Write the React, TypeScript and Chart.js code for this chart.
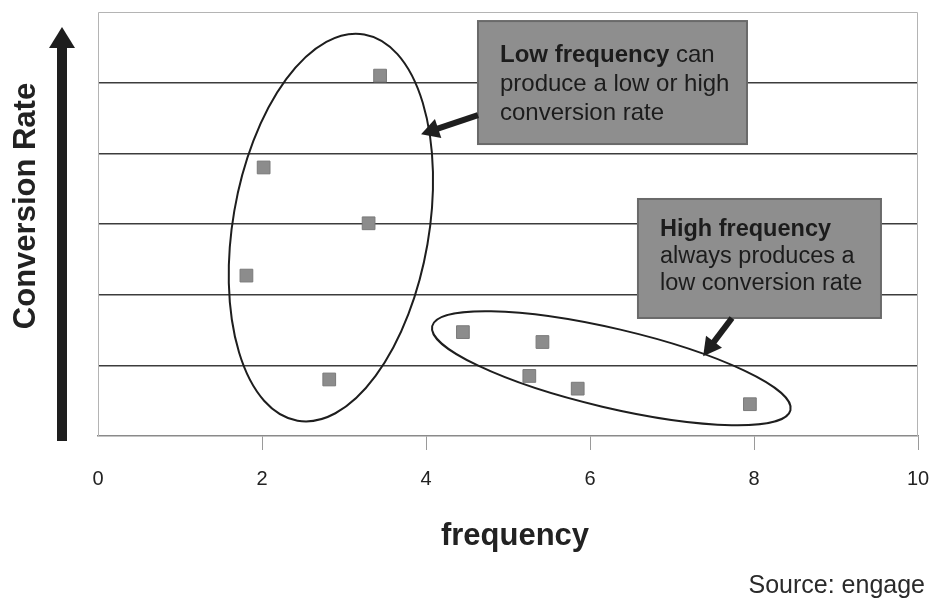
import React, { useEffect, useRef } from "react";
import { Chart, registerables } from "chart.js";

Chart.register(...registerables);

// ---- data ----
const frequency = [3.44, 2.02, 3.3, 1.81, 2.82, 4.45, 5.42, 5.26, 5.85, 7.95];
const conversionRate = [5.1, 3.8, 3.01, 2.27, 0.8, 1.47, 1.33, 0.85, 0.67, 0.45];
const xTickValues = [0, 2, 4, 6, 8, 10];
const yGridLevels = [0, 1, 2, 3, 4, 5, 6];

const xTitle = "frequency";
const yTitle = "Conversion Rate";
const sourceNote = "Source: engage";

const lowBoxLines = [
  [{ t: "Low frequency", b: true }, { t: " can", b: false }],
  [{ t: "produce a low or high", b: false }],
  [{ t: "conversion rate", b: false }],
];
const highBoxLines = [
  [{ t: "High frequency", b: true }],
  [{ t: "always produces a", b: false }],
  [{ t: "low conversion rate", b: false }],
];

// ---- annotation geometry (anchored in data coordinates) ----
const FONT = "'Liberation Sans', Arial, Helvetica, sans-serif";

const ellipses = [
  { cx: 2.84, cy: 2.95, rx: 98, ry: 196, rot: 9.8 },
  { cx: 6.26, cy: 0.96, rx: 184, ry: 39.6, rot: 13.2 },
];

const boxes = [
  {
    x: 4.634, y: 5.872, w: 269, h: 123, lines: lowBoxLines, size: 24,
    textDx: 22, firstBase: 41, lineGap: 29,
    arrow: { fromDx: 0, fromDy: 94, toX: 3.94, toY: 4.27 },
  },
  {
    x: 6.585, y: 3.354, w: 243, h: 119, lines: highBoxLines, size: 23.5,
    textDx: 22, firstBase: 37, lineGap: 27,
    arrow: { fromDx: 94, fromDy: 119, toX: 7.38, toY: 1.13 },
  },
];

function drawArrow(ctx: CanvasRenderingContext2D, x1: number, y1: number, x2: number, y2: number, lw: number, hl: number, hw: number) {
  const ang = Math.atan2(y2 - y1, x2 - x1);
  const bx = x2 - hl * Math.cos(ang);
  const by = y2 - hl * Math.sin(ang);
  ctx.save();
  ctx.strokeStyle = "#1e1e1e";
  ctx.fillStyle = "#1e1e1e";
  ctx.lineWidth = lw;
  ctx.lineCap = "butt";
  ctx.beginPath();
  ctx.moveTo(x1, y1);
  ctx.lineTo(bx + 2 * Math.cos(ang), by + 2 * Math.sin(ang));
  ctx.stroke();
  ctx.beginPath();
  ctx.moveTo(x2, y2);
  ctx.lineTo(bx + hw * Math.sin(ang), by - hw * Math.cos(ang));
  ctx.lineTo(bx - hw * Math.sin(ang), by + hw * Math.cos(ang));
  ctx.closePath();
  ctx.fill();
  ctx.restore();
}

const annotate = {
  id: "annotate",
  beforeDatasetsDraw(chart: any) {
    const { ctx, chartArea: a } = chart;
    ctx.save();
    ctx.strokeStyle = "#b4b4b4";
    ctx.lineWidth = 1;
    ctx.beginPath();
    ctx.moveTo(a.left + 0.5, a.bottom);
    ctx.lineTo(a.left + 0.5, a.top + 0.5);
    ctx.lineTo(a.right - 0.5, a.top + 0.5);
    ctx.lineTo(a.right - 0.5, a.bottom);
    ctx.stroke();
    ctx.restore();
  },
  afterDatasetsDraw(chart: any) {
    const { ctx } = chart;
    const xs = chart.scales.x;
    const ys = chart.scales.y;
    ctx.save();
    ctx.strokeStyle = "#1e1e1e";
    ctx.lineWidth = 2;
    for (const e of ellipses) {
      ctx.beginPath();
      ctx.ellipse(xs.getPixelForValue(e.cx), ys.getPixelForValue(e.cy), e.rx, e.ry, (e.rot * Math.PI) / 180, 0, Math.PI * 2);
      ctx.stroke();
    }
    ctx.restore();
  },
  afterDraw(chart: any) {
    const { ctx, chartArea: a } = chart;
    const xs = chart.scales.x;
    const ys = chart.scales.y;

    // callout boxes
    for (const b of boxes) {
      const left = xs.getPixelForValue(b.x);
      const top = ys.getPixelForValue(b.y);
      ctx.save();
      ctx.fillStyle = "#8e8e8e";
      ctx.strokeStyle = "#6a6a6a";
      ctx.lineWidth = 2;
      ctx.fillRect(left, top, b.w, b.h);
      ctx.strokeRect(left, top, b.w, b.h);
      ctx.fillStyle = "#1c1c1c";
      ctx.textBaseline = "alphabetic";
      ctx.textAlign = "left";
      b.lines.forEach((line, i) => {
        let tx = left + b.textDx;
        const ty = top + b.firstBase + i * b.lineGap;
        for (const seg of line) {
          ctx.font = `${seg.b ? "bold " : ""}${b.size}px ${FONT}`;
          ctx.fillText(seg.t, tx, ty);
          tx += ctx.measureText(seg.t).width;
        }
      });
      ctx.restore();
      drawArrow(
        ctx,
        left + b.arrow.fromDx,
        top + b.arrow.fromDy,
        xs.getPixelForValue(b.arrow.toX),
        ys.getPixelForValue(b.arrow.toY),
        6, 18, 10
      );
    }

    // y-axis arrow
    ctx.save();
    ctx.fillStyle = "#1e1e1e";
    ctx.fillRect(57, 46, 10, a.bottom + 5 - 46);
    ctx.beginPath();
    ctx.moveTo(62, 27);
    ctx.lineTo(75, 48);
    ctx.lineTo(49, 48);
    ctx.closePath();
    ctx.fill();
    ctx.restore();

    // titles
    ctx.save();
    ctx.fillStyle = "#222";
    ctx.font = `bold 31px ${FONT}`;
    ctx.textAlign = "center";
    ctx.textBaseline = "alphabetic";
    ctx.save();
    ctx.translate(35, 206);
    ctx.rotate(-Math.PI / 2);
    ctx.fillText(yTitle, 0, 0);
    ctx.restore();
    ctx.fillText(xTitle, 515, 545);
    ctx.font = `25px ${FONT}`;
    ctx.textAlign = "right";
    ctx.fillStyle = "#2a2a2a";
    ctx.fillText(sourceNote, 925, 593);
    ctx.restore();
  },
};

export default function App() {
  const ref = useRef<HTMLCanvasElement | null>(null);
  useEffect(() => {
    if (!ref.current) return;
    const chart = new Chart(ref.current, {
      type: "scatter",
      data: {
        datasets: [
          {
            data: frequency.map((x, i) => ({ x, y: conversionRate[i] })),
            pointStyle: "rect",
            pointRadius: 9,
            pointHoverRadius: 9,
            backgroundColor: "#8c8c8c",
            borderColor: "#7a7a7a",
            borderWidth: 1,
          },
        ],
      },
      options: {
        animation: false,
        responsive: true,
        maintainAspectRatio: false,
        layout: { padding: { left: 98, right: 11, top: 12, bottom: 0 } },
        plugins: { legend: { display: false }, tooltip: { enabled: false } },
        scales: {
          x: {
            type: "linear",
            min: 0,
            max: 10,
            afterBuildTicks: (s: any) => {
              s.ticks = xTickValues.map((v) => ({ value: v }));
            },
            ticks: { font: { family: FONT, size: 20 }, color: "#222", padding: 17, maxRotation: 0 },
            grid: {
              drawOnChartArea: false,
              drawTicks: true,
              tickLength: 14,
              lineWidth: 1,
              color: (c: any) => (c.tick && c.tick.value === 0 ? "rgba(0,0,0,0)" : "#9a9a9a"),
            },
            border: { color: "#8a8a8a", width: 1.5 },
            afterFit: (s: any) => {
              s.height = 165;
              s.paddingLeft = 0;
              s.paddingRight = 0;
            },
          },
          y: {
            type: "linear",
            min: 0,
            max: 6,
            afterBuildTicks: (s: any) => {
              s.ticks = yGridLevels.map((v) => ({ value: v }));
            },
            ticks: { display: false },
            grid: {
              drawTicks: false,
              lineWidth: 1.5,
              color: (c: any) =>
                c.tick && (c.tick.value === 0 || c.tick.value === 6) ? "rgba(0,0,0,0)" : "#3c3c3c",
            },
            border: { display: false },
            afterFit: (s: any) => {
              s.width = 0;
              s.paddingTop = 0;
              s.paddingBottom = 0;
            },
          },
        },
      },
      plugins: [annotate],
    } as any);
    return () => chart.destroy();
  }, []);

  return (
    <div style={{ position: "fixed", left: 0, top: 0, width: 929, height: 601, background: "#fff" }}>
      <canvas ref={ref} />
    </div>
  );
}
